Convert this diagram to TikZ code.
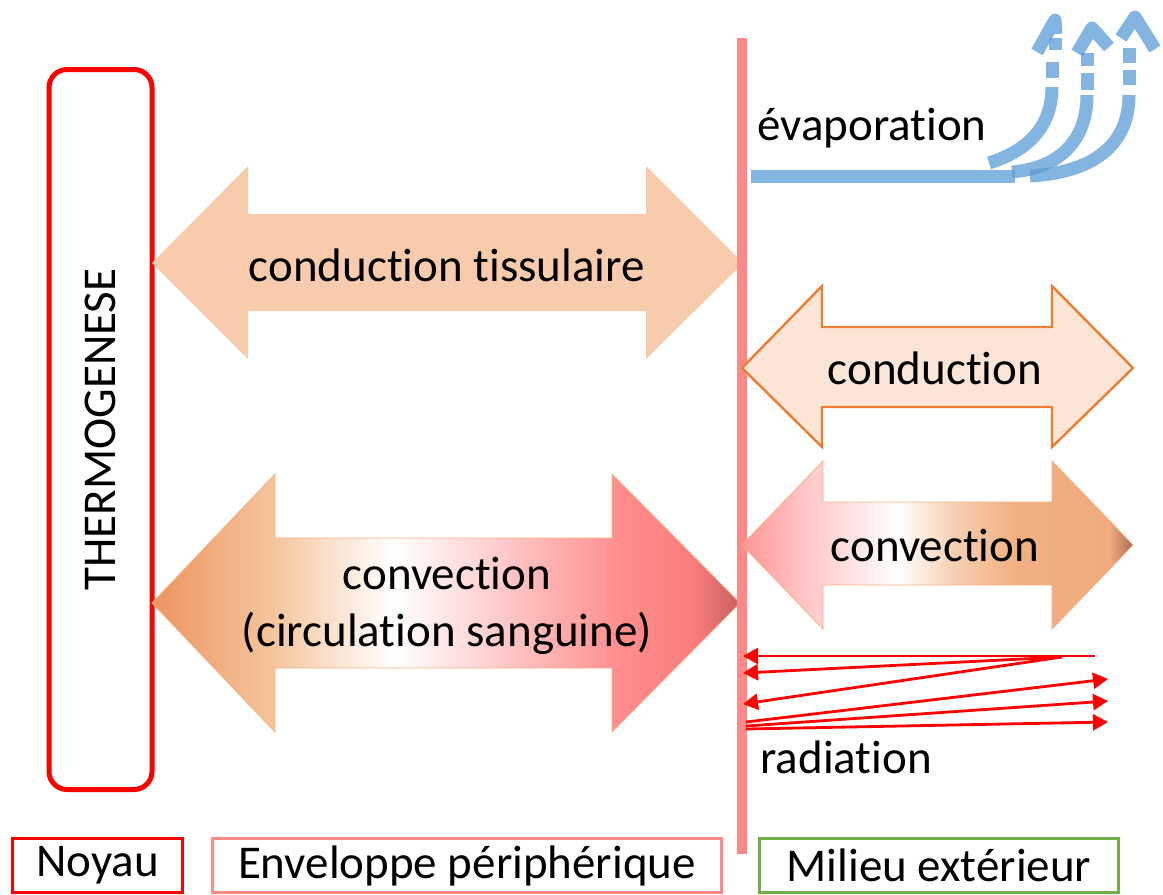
\documentclass[tikz,border=0pt]{standalone}
\usepackage{fontspec}
\setmainfont{Carlito}[Ligatures=NoCommon]
\usetikzlibrary{arrows.meta}

\definecolor{noyaured}{RGB}{255,0,0}
\definecolor{envpink}{RGB}{255,137,137}
\definecolor{milgreen}{RGB}{112,173,71}
\definecolor{tissu}{RGB}{248,203,173}
\definecolor{condfill}{RGB}{251,229,214}
\definecolor{condline}{RGB}{237,125,49}
\definecolor{evapblue}{RGB}{91,155,213}
\definecolor{bevel}{RGB}{244,177,131}
% couleurs des fleches de convection
\definecolor{sg0}{RGB}{236,148,96}
\definecolor{sg1}{RGB}{245,195,155}
\definecolor{sg2}{RGB}{255,215,215}
\definecolor{sg3}{RGB}{255,140,140}
\definecolor{sg4}{RGB}{250,125,125}
\definecolor{sg5}{RGB}{200,95,95}
\definecolor{ai0}{RGB}{255,150,150}
\definecolor{ai1}{RGB}{255,195,195}
\definecolor{ai2}{RGB}{245,205,175}
\definecolor{ai3}{RGB}{242,176,130}
\definecolor{ai4}{RGB}{240,170,125}
\definecolor{ai5}{RGB}{170,110,85}

\pgfdeclarehorizontalshading{sangshade}{100bp}{color(0bp)=(sg0); color(25bp)=(sg0);
  color(35bp)=(sg1); color(45.5bp)=(white); color(52.5bp)=(sg2); color(65bp)=(sg3);
  color(71bp)=(sg4); color(75bp)=(sg5); color(100bp)=(sg5)}
\pgfdeclarehorizontalshading{airshade}{100bp}{color(0bp)=(ai0); color(25bp)=(ai0);
  color(32.5bp)=(ai1); color(45bp)=(white); color(52.5bp)=(ai2); color(60bp)=(ai3);
  color(72bp)=(ai4); color(75bp)=(ai5); color(100bp)=(ai5)}

\tikzset{
  txt/.style={font=\fontsize{23.5}{28.2}\selectfont, inner sep=0pt},
  zone/.style={txt, draw, line width=1.5pt, minimum height=27pt},
  ray/.style={draw=red, line width=1.4pt, -{Triangle[length=7.5pt,width=8pt]}},
  vapeur/.style={draw=evapblue, draw opacity=0.75, line width=6.5pt},
}

\begin{document}
\begin{tikzpicture}[x=0.5pt,y=-0.5pt]
  \useasboundingbox (0,0) rectangle (1163,895);

  % noyau
  \node[draw=noyaured, line width=2.5pt, rounded corners=9pt,
        minimum width=51.5pt, minimum height=360pt] (thermo) at (100.5,429.5) {};
  \node[txt, rotate=90] (thermotxt) at (thermo) {THERMOGENESE};

  % transferts dans l'enveloppe
  \fill[tissu] (152,263) -- (248,166) -- (248,214) -- (646,214) -- (646,166) -- (743,263)
    -- (646,359) -- (646,311) -- (248,311) -- (248,359) -- cycle;
  \path[shading=sangshade, draw=bevel, line width=0.4pt] (152,603) -- (275,474) -- (275,538)
    -- (612,538) -- (612,474) -- (740,603) -- (612,732) -- (612,668) -- (275,668)
    -- (275,732) -- cycle;
  \node[txt] (tissutxt) at (447,265) {conduction tissulaire};
  \node[txt, align=center] (sangtxt) at (447,606) {convection\\(circulation sanguine)};

  % interface
  \draw[envpink, line width=5pt] (742,38) -- (742,854);

  % transferts vers le milieu exterieur
  \filldraw[fill=condfill, draw=condline, line width=1.2pt] (742,368) -- (822,286)
    -- (822,327) -- (1052,327) -- (1052,286) -- (1133,368) -- (1052,447) -- (1052,407)
    -- (822,407) -- (822,447) -- cycle;
  \path[shading=airshade, draw=bevel, line width=0.4pt] (742,545) -- (823,461) -- (823,502)
    -- (1052,502) -- (1052,461) -- (1133,545) -- (1052,629) -- (1052,585) -- (823,585)
    -- (823,629) -- cycle;
  \node[txt] (condtxt) at (935,368) {conduction};
  \node[txt] (convtxt) at (935,545) {convection};

  % evaporation
  \draw[vapeur] (751,176) -- (1015,176);
  \draw[vapeur] (989,163) .. controls (1030,150) and (1052,125) .. (1052,87);
  \draw[vapeur] (1012,172) .. controls (1060,168) and (1087,140) .. (1087,95);
  \draw[vapeur] (1030,176) .. controls (1100,172) and (1129,140) .. (1129,95);
  \foreach \x/\ya/\yb in {1052/78/62, 1055/50/38, 1087/90/73, 1087/66/53, 1129/85/70, 1129/63/48}
    \draw[vapeur] (\x,\ya) -- (\x,\yb);
  \draw[vapeur, line join=round] (1037,52) -- (1055,20) -- (1056,34);
  \draw[vapeur, line join=round] (1077,53) -- (1092,28) -- (1109,47);
  \draw[vapeur, line join=round] (1121,38) -- (1135,17) -- (1155,49);
  \node[txt, anchor=west] (evaptxt) at (757,128) {évaporation};

  % radiation
  \coordinate (ra) at (1095,656);
  \coordinate (rb) at (1062,657);
  \coordinate (rc) at (746,722);
  \coordinate (rd) at (746,726);
  \coordinate (re) at (746,729);
  \draw[ray] (ra) -- (743,656);
  \draw[ray] (rb) -- (743,673);
  \draw[ray] (rb) -- (743,704);
  \draw[ray] (rc) -- (1108,679);
  \draw[ray] (rd) -- (1108,701);
  \draw[ray] (re) -- (1108,722);
  \node[txt, anchor=west] (radtxt) at (760,757) {radiation};

  % compartiments
  \node[zone, draw=noyaured, minimum width=85pt] (noyau) at (97.5,865.5) {Noyau};
  \node[zone, draw=envpink, minimum width=254.5pt] (enveloppe) at (467,865.5) {Enveloppe périphérique};
  \node[zone, draw=milgreen, minimum width=179.5pt] (milieu) at (939,865.5) {Milieu extérieur};
\end{tikzpicture}
\end{document}
